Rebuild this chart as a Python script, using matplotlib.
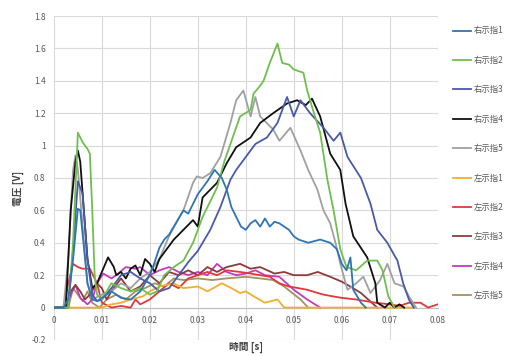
import matplotlib
matplotlib.use('Agg')
import matplotlib.pyplot as plt
import numpy as np

plt.rcParams['font.family'] = ['Noto Sans CJK JP', 'DejaVu Sans']

# --- data (time in s, voltage in V) ---
r1_t = [0, .002, .003, .004, .005, .0055, .006, .007, .008, .009, .010, .012, .014, .016, .018,
        .019, .020, .021, .022, .023, .024, .025, .026, .027, .028, .029, .030, .031, .032, .0335,
        .035, .036, .037, .038, .039, .040, .041, .042, .043, .044, .045, .046, .047, .048, .049,
        .050, .051, .053, .0555, .0576, .059, .060, .061, .0618, .0624, .064, .065]
r1_v = [0, 0, 0.05, 0.3, 0.61, 0.6, 0.45, 0.15, 0.05, 0.04, 0.06, 0.1, 0.06, 0.05, 0.1,
        0.15, 0.2, 0.28, 0.37, 0.42, 0.45, 0.5, 0.55, 0.6, 0.58, 0.64, 0.7, 0.74, 0.78, 0.85,
        0.8, 0.73, 0.62, 0.56, 0.5, 0.48, 0.52, 0.54, 0.5, 0.55, 0.5, 0.53, 0.52, 0.5, 0.48,
        0.44, 0.42, 0.4, 0.42, 0.4, 0.36, 0.27, 0.23, 0.31, 0.11, 0.03, 0]

r2_t = [0, .003, .004, .005, .006, .007, .0075, .008, .0085, .009, .010, .012, .014, .016, .018,
        .020, .0215, .023, .025, .027, .029, .031, .033, .034, .0355, .0368, .0388, .041, .0416,
        .043, .0437, .045, .0466, .0476, .049, .050, .052, .0528, .054, .0555, .057, .0583, .0597,
        .061, .063, .0653, .0674, .0685, .0697, .071]
r2_v = [0, 0, 0.4, 1.08, 1.02, 0.98, 0.95, 0.6, 0.2, 0.08, 0.05, 0.15, 0.12, 0.1, 0.12,
        0.08, 0.1, 0.2, 0.25, 0.29, 0.4, 0.56, 0.68, 0.74, 0.9, 1.01, 1.18, 1.22, 1.32,
        1.37, 1.40, 1.51, 1.63, 1.51, 1.5, 1.47, 1.45, 1.34, 1.22, 1.08, 0.79, 0.6, 0.36,
        0.25, 0.23, 0.29, 0.29, 0.23, 0.07, 0]

r3_t = [0, .003, .004, .005, .006, .007, .008, .009, .010, .012, .014, .016, .018, .020, .022,
        .024, .026, .028, .030, .031, .0326, .0347, .0368, .038, .040, .042, .0444, .0466, .0486,
        .050, .0514, .0534, .0562, .0583, .0597, .0612, .064, .066, .0674, .0695, .0716, .0728,
        .074, .075]
r3_v = [0, 0, 0.35, 0.78, 0.7, 0.3, 0.08, 0.04, 0.05, 0.12, 0.2, 0.22, 0.18, 0.15, 0.1,
        0.12, 0.2, 0.28, 0.35, 0.4, 0.48, 0.62, 0.79, 0.85, 0.93, 1.01, 1.05, 1.14, 1.3,
        1.18, 1.28, 1.2, 1.11, 1.03, 1.08, 0.93, 0.8, 0.64, 0.48, 0.4, 0.29, 0.15,
        0.05, 0]

r4_t = [0, .0025, .0035, .0045, .005, .0055, .006, .007, .008, .009, .010, .0113, .0125, .013,
        .014, .015, .016, .017, .018, .019, .020, .021, .022, .024, .025, .027, .029, .030, .031,
        .034, .036, .038, .041, .043, .0457, .0486, .0507, .0525, .0538, .0555, .0576, .0597,
        .0608, .0624, .0653, .067, .0674, .069, .070, .071, .072, .073]
r4_v = [0, 0, 0.6, 0.9, 0.97, 0.9, 0.7, 0.3, 0.12, 0.15, 0.22, 0.31, 0.25, 0.2,
        0.22, 0.18, 0.24, 0.26, 0.2, 0.3, 0.27, 0.22, 0.3, 0.38, 0.42, 0.48, 0.54, 0.5, 0.68,
        0.77, 0.89, 0.99, 1.05, 1.14, 1.2, 1.26, 1.28, 1.25, 1.29, 1.18, 0.95, 0.85,
        0.64, 0.44, 0.31, 0.15, 0.03, 0.0, 0.03, 0.0, 0.02, 0]

r5_t = [0, .002, .003, .004, .0045, .005, .006, .007, .008, .010, .012, .014, .016, .018, .020,
        .022, .024, .026, .027, .029, .0298, .031, .0326, .0347, .0368, .038, .0395, .041, .042,
        .043, .0457, .047, .0493, .0514, .053, .0549, .0562, .0576, .0587, .0597, .0612, .063,
        .0645, .066, .068, .0695, .071, .0729, .074, .0755]
r5_v = [0, 0, 0.3, 0.85, 0.94, 0.85, 0.5, 0.15, 0.05, 0.08, 0.1, 0.15, 0.12, 0.18, 0.22,
        0.3, 0.44, 0.55, 0.6, 0.77, 0.81, 0.8, 0.83, 0.93, 1.14, 1.28, 1.34, 1.18, 1.3,
        1.18, 1.1, 1.03, 1.11, 0.97, 0.85, 0.73, 0.6, 0.52, 0.4, 0.27, 0.11, 0.15,
        0.19, 0.09, 0.17, 0.27, 0.15, 0.13, 0.07, 0]

l1_t = [0, .010, .012, .014, .016, .0186, .020, .022, .0249, .027, .030, .032, .035, .037,
        .0388, .040, .0416, .044, .0466, .048, .075]
l1_v = [0, 0, 0.02, 0.03, 0.05, 0.07, 0.1, 0.13, 0.15, 0.12, 0.13, 0.1, 0.15, 0.12,
        0.09, 0.1, 0.07, 0.03, 0.05, 0, 0]

l2_t = [0, .002, .003, .004, .005, .006, .0075, .009, .010, .012, .014, .016, .017, .018, .020,
        .022, .024, .026, .028, .030, .032, .034, .036, .0388, .041, .043, .045, .047, .049, .051,
        .0528, .055, .0562, .058, .060, .063, .065, .067, .070, .072, .074, .0764, .078, .080]
l2_v = [0, 0, 0.15, 0.27, 0.25, 0.24, 0.24, 0.15, 0.03, 0.0, 0.01, 0.0, 0.05, 0.02, 0.05,
        0.1, 0.15, 0.12, 0.18, 0.2, 0.22, 0.2, 0.23, 0.22, 0.21, 0.2, 0.19, 0.15, 0.13, 0.12,
        0.11, 0.09, 0.08, 0.07, 0.06, 0.05, 0.04, 0.03, 0.02, 0.01, 0.03, 0.03, 0.0, 0.02]

l3_t = [0, .0025, .0035, .0045, .0055, .0065, .0075, .009, .010, .011, .012, .014, .016, .018,
        .020, .022, .024, .026, .028, .030, .032, .034, .036, .0388, .041, .043, .046, .048, .050,
        .0528, .055, .0576, .060, .0618, .064, .0674]
l3_v = [0, 0, 0.1, 0.14, 0.1, 0.05, 0.08, 0.15, 0.12, 0.05, 0.1, 0.18, 0.1, 0.13,
        0.2, 0.15, 0.22, 0.2, 0.23, 0.2, 0.25, 0.22, 0.25, 0.27, 0.24, 0.25, 0.21, 0.22, 0.2,
        0.2, 0.22, 0.19, 0.16, 0.13, 0.09, 0]

l4_t = [0, .0025, .0035, .0045, .0055, .007, .008, .009, .0103, .012, .013, .015, .017, .018,
        .020, .022, .024, .026, .028, .030, .032, .034, .036, .038, .040, .042, .044, .047, .050,
        .0528, .0555]
l4_v = [0, 0, 0.08, 0.14, 0.06, 0.02, 0.05, 0.15, 0.21, 0.18, 0.2, 0.25, 0.24, 0.25,
        0.2, 0.23, 0.25, 0.22, 0.2, 0.22, 0.2, 0.27, 0.22, 0.2, 0.21, 0.23, 0.2, 0.19, 0.11,
        0.05, 0]

l5_t = [0, .003, .004, .005, .006, .007, .008, .0095, .011, .013, .015, .017, .019, .021, .023,
        .025, .027, .030, .033, .036, .040, .043, .0457, .048, .0514, .053]
l5_v = [0, 0, 0.12, 0.08, 0.04, 0.1, 0.03, 0.0, 0.05, 0.08, 0.05, 0.1, 0.12, 0.15, 0.13,
        0.18, 0.17, 0.18, 0.17, 0.18, 0.19, 0.18, 0.17, 0.13, 0.05, 0]

labels = ['右示指1', '右示指2', '右示指3', '右示指4', '右示指5',
          '左示指1', '左示指2', '左示指3', '左示指4', '左示指5']
colors = ['#2E75B6', '#70BF4E', '#4A5AA6', '#111111', '#A0A0A0',
          '#F2AE2E', '#E2383C', '#8C3B3B', '#C63AC0', '#A3925F']
series = [(r1_t, r1_v), (r2_t, r2_v), (r3_t, r3_v), (r4_t, r4_v), (r5_t, r5_v),
          (l1_t, l1_v), (l2_t, l2_v), (l3_t, l3_v), (l4_t, l4_v), (l5_t, l5_v)]

xticks = [0, 0.01, 0.02, 0.03, 0.04, 0.05, 0.06, 0.07, 0.08]
xtick_labels = ['0', '0.01', '0.02', '0.03', '0.04', '0.05', '0.06', '0.07', '0.08']
yticks = [-0.2, 0, 0.2, 0.4, 0.6, 0.8, 1.0, 1.2, 1.4, 1.6, 1.8]
ytick_labels = ['-0.2', '0', '0.2', '0.4', '0.6', '0.8', '1', '1.2', '1.4', '1.6', '1.8']

fig = plt.figure(figsize=(5.18, 3.56), dpi=100)
ax = fig.add_axes([0.104, 0.045, 0.741, 0.910])

# draw in reverse so right-hand series end up on top
handles = []
for (t, v), lab, c in zip(series, labels, colors):
    ln, = ax.plot(t, v, color=c, linewidth=1.3, label=lab)
    handles.append(ln)
for i, ln in enumerate(handles):
    ln.set_zorder(3 + (10 - i) * 0.1)

ax.set_xlim(0, 0.08)
ax.set_ylim(-0.2, 1.8)
ax.set_xticks(xticks)
ax.set_xticklabels(xtick_labels)
ax.set_yticks(yticks)
ax.set_yticklabels(ytick_labels)
ax.tick_params(length=0, labelsize=6, colors='#595959', pad=6)
ax.grid(True, color='#D9D9D9', linewidth=0.8)
ax.set_axisbelow(True)
for s in ['top', 'right', 'left']:
    ax.spines[s].set_visible(False)
ax.spines['bottom'].set_position(('data', 0))
ax.spines['bottom'].set_color('#BFBFBF')
ax.spines['bottom'].set_linewidth(0.8)

fig.text(0.035, 0.47, '電圧 [V]', rotation=90, fontsize=7, fontweight='bold',
         color='#404040', ha='center', va='center')
fig.text(0.475, 0.025, '時間 [s]', fontsize=7, fontweight='bold',
         color='#404040', ha='center', va='center')

fig.legend(handles=handles, labels=labels, loc='upper left',
           bbox_to_anchor=(0.868, 0.935), frameon=False, fontsize=6,
           labelcolor='#595959', handlelength=2.2, handletextpad=0.3,
           labelspacing=2.45, borderaxespad=0)

fig.savefig('out.png', dpi=100)
